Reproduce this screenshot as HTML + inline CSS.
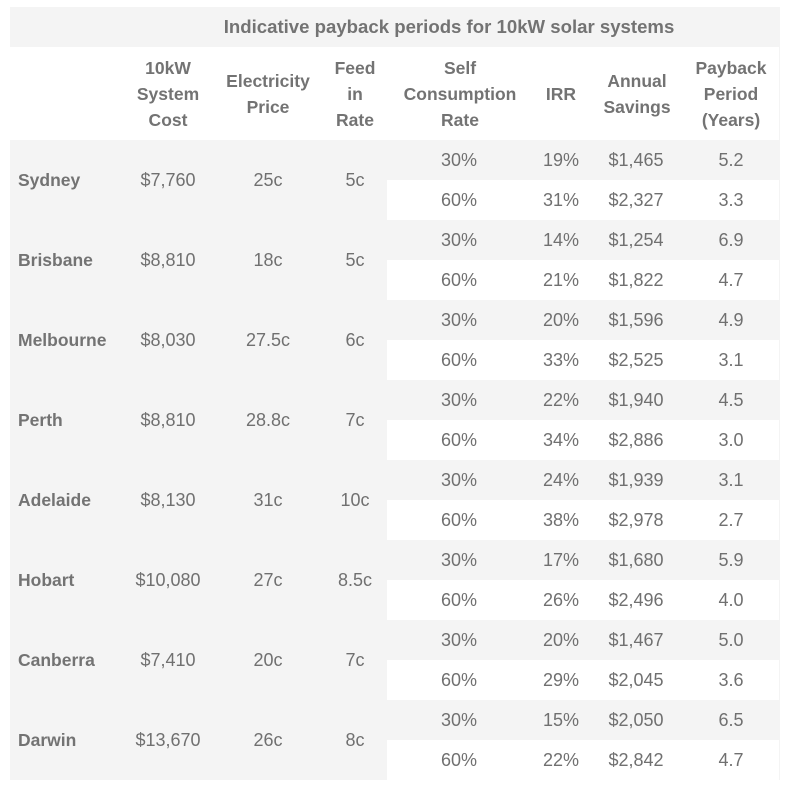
<!DOCTYPE html>
<html><head><style>
body{margin:0;background:#fff;width:786px;height:789px;position:relative;font-family:"Liberation Sans",Arial,sans-serif;font-size:18px;color:#707070;}
.a{position:absolute;}
.t{position:absolute;text-align:center;transform:translateX(-50%);white-space:nowrap;}
.b{font-weight:bold;color:#737373;font-size:17.5px;}
.h{line-height:26px;}
</style></head><body>
<div class="a" style="left:10px;top:7px;width:770px;height:773px;background:#f4f4f4;"></div>
<div class="a" style="left:10px;top:47px;width:769px;height:93px;background:#fff;"></div>
<div class="t b" style="left:449px;top:16px;font-size:18.6px;">Indicative payback periods for 10kW solar systems</div>
<div class="t b h" style="left:168px;top:55px;">10kW<br>System<br>Cost</div>
<div class="t b h" style="left:268px;top:68px;">Electricity<br>Price</div>
<div class="t b h" style="left:355px;top:55px;">Feed<br>in<br>Rate</div>
<div class="t b h" style="left:460px;top:55px;">Self<br>Consumption<br>Rate</div>
<div class="t b h" style="left:561px;top:81px;">IRR</div>
<div class="t b h" style="left:637px;top:68px;">Annual<br>Savings</div>
<div class="t b h" style="left:731px;top:55px;">Payback<br>Period<br>(Years)</div>
<div id="rows"></div>
<script>
var d=[["Sydney","$7,760","25c","5c","19%","$1,465","5.2","31%","$2,327","3.3"],
["Brisbane","$8,810","18c","5c","14%","$1,254","6.9","21%","$1,822","4.7"],
["Melbourne","$8,030","27.5c","6c","20%","$1,596","4.9","33%","$2,525","3.1"],
["Perth","$8,810","28.8c","7c","22%","$1,940","4.5","34%","$2,886","3.0"],
["Adelaide","$8,130","31c","10c","24%","$1,939","3.1","38%","$2,978","2.7"],
["Hobart","$10,080","27c","8.5c","17%","$1,680","5.9","26%","$2,496","4.0"],
["Canberra","$7,410","20c","7c","20%","$1,467","5.0","29%","$2,045","3.6"],
["Darwin","$13,670","26c","8c","15%","$2,050","6.5","22%","$2,842","4.7"]];
var h="";
d.forEach(function(r,i){var y=140+i*80;
h+='<div class="a" style="left:387px;top:'+(y+40)+'px;width:392px;height:40px;background:#fff;"></div>';
h+='<div class="a b" style="left:18px;top:'+(y+30)+'px;">'+r[0]+'</div>';
h+='<div class="t" style="left:168px;top:'+(y+30)+'px;">'+r[1]+'</div>';
h+='<div class="t" style="left:268px;top:'+(y+30)+'px;">'+r[2]+'</div>';
h+='<div class="t" style="left:355px;top:'+(y+30)+'px;">'+r[3]+'</div>';
[[y+10,"30%",r[4],r[5],r[6]],[y+50,"60%",r[7],r[8],r[9]]].forEach(function(s){
h+='<div class="t" style="left:459px;top:'+s[0]+'px;">'+s[1]+'</div>';
h+='<div class="t" style="left:561px;top:'+s[0]+'px;">'+s[2]+'</div>';
h+='<div class="t" style="left:636px;top:'+s[0]+'px;">'+s[3]+'</div>';
h+='<div class="t" style="left:731px;top:'+s[0]+'px;">'+s[4]+'</div>';});
});
document.getElementById("rows").innerHTML=h;
</script>
</body></html>
